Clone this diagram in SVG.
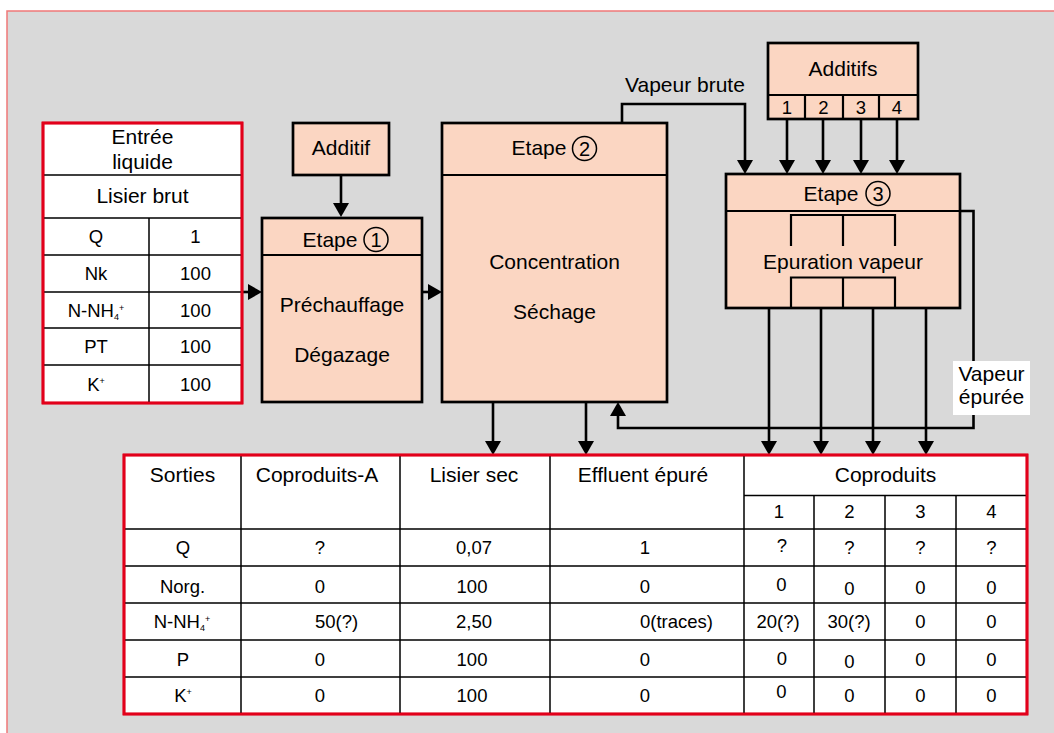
<svg xmlns="http://www.w3.org/2000/svg" width="1054" height="733" viewBox="0 0 1054 733">
<style>
text{font-family:"Liberation Sans",Arial,sans-serif;fill:#000;text-anchor:middle}
.h{font-size:21px}
.v{font-size:18.5px}
.box{fill:#fbd6c2;stroke:#000;stroke-width:2.7}
.sep{stroke:#000;stroke-width:2.2;fill:none}
.tbl{fill:#fff;stroke:#e2001a;stroke-width:2.7}
.tl{stroke:#000;stroke-width:1.5;fill:none}
.con{stroke:#000;stroke-width:2.6;fill:none;marker-end:url(#ah)}
.circ{fill:none;stroke:#000;stroke-width:1.5}
.cn{font-size:20px}
.sub{font-size:9px}
</style>
<defs>
<marker id="ah" markerUnits="userSpaceOnUse" viewBox="0 0 14 16" refX="10" refY="8" markerWidth="14" markerHeight="16" orient="auto">
<path d="M0,0 L14,8 L0,16 Z" fill="#000"/>
</marker>
</defs>
<rect x="7" y="11" width="1100" height="800" fill="#d9d9d9" stroke="#f07878" stroke-width="1.5"/>

<g id="connectors">
<path class="con" d="M242,292 H258"/>
<path class="con" d="M422,292 H438"/>
<path class="con" d="M341,175 V213"/>
<path class="con" d="M622,123 V104 H745 V170"/>
<path class="con" d="M787,119 V170"/>
<path class="con" d="M823,119 V170"/>
<path class="con" d="M861,119 V170"/>
<path class="con" d="M897,119 V170"/>
<path class="con" d="M769,308 V451"/>
<path class="con" d="M821,308 V451"/>
<path class="con" d="M873,308 V451"/>
<path class="con" d="M926,308 V451"/>
<path class="con" d="M493,402 V451"/>
<path class="con" d="M586,402 V451"/>
<path class="con" d="M960,211 H973.5 V428 H618 V406"/>
<text class="h" x="625" y="92" style="text-anchor:start">Vapeur brute</text>
</g>

<g id="vapeur-epuree-label">
<rect x="953" y="361" width="77" height="54" fill="#fff"/>
<text class="h" x="991.5" y="381">Vapeur</text>
<text class="h" x="991.5" y="404">épurée</text>
</g>

<g id="entree">
<rect class="tbl" x="43" y="123" width="199" height="280"/>
<path class="tl" d="M43,175 H242 M43,218 H242 M43,255 H242 M43,292 H242 M43,328 H242 M43,365 H242 M149,218 V403"/>
<rect x="43" y="123" width="199" height="280" fill="none" stroke="#e2001a" stroke-width="2.7"/>
<text class="h" x="142.5" y="144">Entrée</text>
<text class="h" x="142.5" y="169">liquide</text>
<text class="h" x="142.5" y="203">Lisier brut</text>
<text class="v" x="96" y="243">Q</text><text class="v" x="195.5" y="243">1</text>
<text class="v" x="96" y="280">Nk</text><text class="v" x="195.5" y="280">100</text>
<text class="v" x="96" y="316.5">N-NH<tspan class="sub" dy="3">4</tspan><tspan class="sub" dy="-9">+</tspan></text><text class="v" x="195.5" y="316.5">100</text>
<text class="v" x="96" y="353">PT</text><text class="v" x="195.5" y="353">100</text>
<text class="v" x="96" y="390.5">K<tspan class="sub" dy="-7">+</tspan></text><text class="v" x="195.5" y="390.5">100</text>
</g>

<g id="additif">
<rect class="box" x="293" y="123" width="96" height="52"/>
<text class="h" x="341" y="155">Additif</text>
</g>

<g id="etape1">
<rect class="box" x="262" y="218" width="160" height="184"/>
<path class="sep" d="M262,255 H422"/>
<text class="h" x="330" y="246.5">Etape</text>
<circle class="circ" cx="376" cy="239.5" r="12"/>
<text class="cn" x="376" y="246.5">1</text>
<text class="h" x="342" y="312">Préchauffage</text>
<text class="h" x="342" y="362">Dégazage</text>
</g>

<g id="etape2">
<rect class="box" x="442" y="123" width="225" height="279"/>
<path class="sep" d="M442,175 H667"/>
<text class="h" x="539" y="155">Etape</text>
<circle class="circ" cx="584.5" cy="148.5" r="12"/>
<text class="cn" x="584.5" y="155.5">2</text>
<text class="h" x="554.5" y="268.5">Concentration</text>
<text class="h" x="554.5" y="318.5">Séchage</text>
</g>

<g id="additifs">
<rect class="box" x="768" y="43" width="150" height="76"/>
<path class="sep" d="M768,95 H918 M805,95 V119 M843,95 V119 M879,95 V119"/>
<text class="h" x="843" y="76">Additifs</text>
<text class="v" x="787" y="114">1</text>
<text class="v" x="823.5" y="114">2</text>
<text class="v" x="861" y="114">3</text>
<text class="v" x="897" y="114">4</text>
</g>

<g id="etape3">
<rect class="box" x="726" y="174" width="234" height="134"/>
<path class="sep" d="M726,211 H960"/>
<text class="h" x="831" y="201">Etape</text>
<circle class="circ" cx="878" cy="193.5" r="12"/>
<text class="cn" x="878" y="200.5">3</text>
<path class="sep" d="M791,246 V215 H895 V246 M843,215 V246"/>
<path class="sep" d="M791,308 V277.5 H895 V308 M843,277.5 V308"/>
<text class="h" x="843" y="268.5">Epuration vapeur</text>
</g>

<g id="sorties">
<rect class="tbl" x="124" y="455" width="903" height="259"/>
<path class="tl" d="M124,529 H1027 M124,566 H1027 M124,603 H1027 M124,640 H1027 M124,677 H1027 M744,495.5 H1027 M241,455 V714 M400,455 V714 M550,455 V714 M744,455 V714 M814,495.5 V714 M885,495.5 V714 M956,495.5 V714"/>
<rect x="124" y="455" width="903" height="259" fill="none" stroke="#e2001a" stroke-width="2.7"/>
<text class="h" x="182.5" y="482">Sorties</text>
<text class="h" x="317" y="482">Coproduits-A</text>
<text class="h" x="474" y="482">Lisier sec</text>
<text class="h" x="643" y="482">Effluent épuré</text>
<text class="h" x="885.5" y="482">Coproduits</text>
<text class="v" x="779" y="518">1</text>
<text class="v" x="849.5" y="518">2</text>
<text class="v" x="920.5" y="518">3</text>
<text class="v" x="991.5" y="518">4</text>

<text class="v" x="183" y="553.5">Q</text>
<text class="v" x="320" y="553.5">?</text>
<text class="v" x="474" y="553.5">0,07</text>
<text class="v" x="645" y="553.5">1</text>
<text class="v" x="782" y="552">?</text>
<text class="v" x="849.5" y="553.5">?</text>
<text class="v" x="920.5" y="553.5">?</text>
<text class="v" x="991.5" y="553.5">?</text>

<text class="v" x="182.5" y="593">Norg.</text>
<text class="v" x="320" y="593">0</text>
<text class="v" x="472" y="593">100</text>
<text class="v" x="645" y="593">0</text>
<text class="v" x="781.5" y="590.5">0</text>
<text class="v" x="849.5" y="595">0</text>
<text class="v" x="920.5" y="593.5">0</text>
<text class="v" x="991.5" y="593.5">0</text>

<text class="v" x="182" y="627.5">N-NH<tspan class="sub" dy="3">4</tspan><tspan class="sub" dy="-9">+</tspan></text>
<text class="v" x="315" y="627.5" style="text-anchor:start">50(?)</text>
<text class="v" x="474" y="627.5">2,50</text>
<text class="v" x="640" y="627.5" style="text-anchor:start">0(traces)</text>
<text class="v" x="778" y="627.5">20(?)</text>
<text class="v" x="849" y="627.5">30(?)</text>
<text class="v" x="920.5" y="627.5">0</text>
<text class="v" x="991.5" y="627.5">0</text>

<text class="v" x="183" y="666">P</text>
<text class="v" x="320" y="666">0</text>
<text class="v" x="472" y="666">100</text>
<text class="v" x="645" y="666">0</text>
<text class="v" x="782" y="665">0</text>
<text class="v" x="849.5" y="667.5">0</text>
<text class="v" x="920.5" y="666">0</text>
<text class="v" x="991.5" y="666">0</text>

<text class="v" x="183" y="701.5">K<tspan class="sub" dy="-7">+</tspan></text>
<text class="v" x="320" y="701.5">0</text>
<text class="v" x="472" y="701.5">100</text>
<text class="v" x="645" y="701.5">0</text>
<text class="v" x="781.5" y="698">0</text>
<text class="v" x="849.5" y="702">0</text>
<text class="v" x="920.5" y="701.5">0</text>
<text class="v" x="991.5" y="701.5">0</text>
</g>
</svg>
